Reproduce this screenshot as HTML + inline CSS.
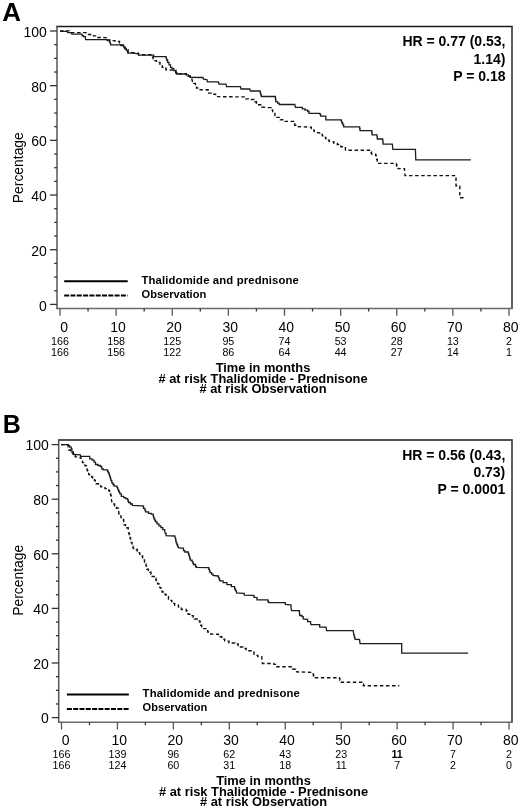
<!DOCTYPE html>
<html><head><meta charset="utf-8"><style>
html,body{margin:0;padding:0;background:#fff;overflow:hidden;width:520px;height:808px;}
svg{display:block;-webkit-font-smoothing:antialiased;}
text{font-family:"Liberation Sans", sans-serif;fill:#000;}
</style></head><body>
<svg style="will-change:transform" width="520" height="808" viewBox="0 0 520 808">
<rect width="520" height="808" fill="#fff"/>
<text x="2.3" y="20.6" font-size="26" font-weight="bold">A</text>
<line x1="56.3" y1="26.5" x2="512.8" y2="26.5" stroke="#1a1a1a" stroke-width="1.4"/>
<line x1="512" y1="26.5" x2="512" y2="308.5" stroke="#444" stroke-width="1.7"/>
<line x1="57" y1="308.5" x2="512.8" y2="308.5" stroke="#6a6a6a" stroke-width="1.4"/>
<line x1="57" y1="26.5" x2="57" y2="309.2" stroke="#555" stroke-width="1.5"/>
<line x1="50" y1="304.40" x2="57" y2="304.40" stroke="#333" stroke-width="1.3"/>
<text x="46.9" y="310.50" font-size="14" text-anchor="end">0</text>
<line x1="54.2" y1="290.73" x2="57" y2="290.73" stroke="#333" stroke-width="1.3"/>
<line x1="54.2" y1="277.06" x2="57" y2="277.06" stroke="#333" stroke-width="1.3"/>
<line x1="54.2" y1="263.39" x2="57" y2="263.39" stroke="#333" stroke-width="1.3"/>
<line x1="50" y1="249.72" x2="57" y2="249.72" stroke="#333" stroke-width="1.3"/>
<text x="46.9" y="255.82" font-size="14" text-anchor="end">20</text>
<line x1="54.2" y1="236.05" x2="57" y2="236.05" stroke="#333" stroke-width="1.3"/>
<line x1="54.2" y1="222.38" x2="57" y2="222.38" stroke="#333" stroke-width="1.3"/>
<line x1="54.2" y1="208.71" x2="57" y2="208.71" stroke="#333" stroke-width="1.3"/>
<line x1="50" y1="195.04" x2="57" y2="195.04" stroke="#333" stroke-width="1.3"/>
<text x="46.9" y="201.14" font-size="14" text-anchor="end">40</text>
<line x1="54.2" y1="181.37" x2="57" y2="181.37" stroke="#333" stroke-width="1.3"/>
<line x1="54.2" y1="167.70" x2="57" y2="167.70" stroke="#333" stroke-width="1.3"/>
<line x1="54.2" y1="154.03" x2="57" y2="154.03" stroke="#333" stroke-width="1.3"/>
<line x1="50" y1="140.36" x2="57" y2="140.36" stroke="#333" stroke-width="1.3"/>
<text x="46.9" y="146.46" font-size="14" text-anchor="end">60</text>
<line x1="54.2" y1="126.69" x2="57" y2="126.69" stroke="#333" stroke-width="1.3"/>
<line x1="54.2" y1="113.02" x2="57" y2="113.02" stroke="#333" stroke-width="1.3"/>
<line x1="54.2" y1="99.35" x2="57" y2="99.35" stroke="#333" stroke-width="1.3"/>
<line x1="50" y1="85.68" x2="57" y2="85.68" stroke="#333" stroke-width="1.3"/>
<text x="46.9" y="91.78" font-size="14" text-anchor="end">80</text>
<line x1="54.2" y1="72.01" x2="57" y2="72.01" stroke="#333" stroke-width="1.3"/>
<line x1="54.2" y1="58.34" x2="57" y2="58.34" stroke="#333" stroke-width="1.3"/>
<line x1="54.2" y1="44.67" x2="57" y2="44.67" stroke="#333" stroke-width="1.3"/>
<line x1="50" y1="31.00" x2="57" y2="31.00" stroke="#333" stroke-width="1.3"/>
<text x="46.9" y="37.10" font-size="14" text-anchor="end">100</text>
<line x1="60.00" y1="308.5" x2="60.00" y2="315.8" stroke="#555" stroke-width="1.3"/>
<text x="64.10" y="332" font-size="14" text-anchor="middle">0</text>
<line x1="88.06" y1="308.5" x2="88.06" y2="311.5" stroke="#333" stroke-width="1.3"/>
<line x1="116.12" y1="308.5" x2="116.12" y2="315.8" stroke="#555" stroke-width="1.3"/>
<text x="117.92" y="332" font-size="14" text-anchor="middle">10</text>
<line x1="144.19" y1="308.5" x2="144.19" y2="311.5" stroke="#333" stroke-width="1.3"/>
<line x1="172.25" y1="308.5" x2="172.25" y2="315.8" stroke="#555" stroke-width="1.3"/>
<text x="174.05" y="332" font-size="14" text-anchor="middle">20</text>
<line x1="200.31" y1="308.5" x2="200.31" y2="311.5" stroke="#333" stroke-width="1.3"/>
<line x1="228.38" y1="308.5" x2="228.38" y2="315.8" stroke="#555" stroke-width="1.3"/>
<text x="230.18" y="332" font-size="14" text-anchor="middle">30</text>
<line x1="256.44" y1="308.5" x2="256.44" y2="311.5" stroke="#333" stroke-width="1.3"/>
<line x1="284.50" y1="308.5" x2="284.50" y2="315.8" stroke="#555" stroke-width="1.3"/>
<text x="286.30" y="332" font-size="14" text-anchor="middle">40</text>
<line x1="312.56" y1="308.5" x2="312.56" y2="311.5" stroke="#333" stroke-width="1.3"/>
<line x1="340.62" y1="308.5" x2="340.62" y2="315.8" stroke="#555" stroke-width="1.3"/>
<text x="342.43" y="332" font-size="14" text-anchor="middle">50</text>
<line x1="368.69" y1="308.5" x2="368.69" y2="311.5" stroke="#333" stroke-width="1.3"/>
<line x1="396.75" y1="308.5" x2="396.75" y2="315.8" stroke="#555" stroke-width="1.3"/>
<text x="398.55" y="332" font-size="14" text-anchor="middle">60</text>
<line x1="424.81" y1="308.5" x2="424.81" y2="311.5" stroke="#333" stroke-width="1.3"/>
<line x1="452.88" y1="308.5" x2="452.88" y2="315.8" stroke="#555" stroke-width="1.3"/>
<text x="454.68" y="332" font-size="14" text-anchor="middle">70</text>
<line x1="480.94" y1="308.5" x2="480.94" y2="311.5" stroke="#333" stroke-width="1.3"/>
<line x1="509.00" y1="308.5" x2="509.00" y2="315.8" stroke="#555" stroke-width="1.3"/>
<text x="510.80" y="332" font-size="14" text-anchor="middle">80</text>
<text x="60.00" y="345" font-size="10.7" text-anchor="middle">166</text>
<text x="60.00" y="355.8" font-size="10.7" text-anchor="middle">166</text>
<text x="116.12" y="345" font-size="10.7" text-anchor="middle">158</text>
<text x="116.12" y="355.8" font-size="10.7" text-anchor="middle">156</text>
<text x="172.25" y="345" font-size="10.7" text-anchor="middle">125</text>
<text x="172.25" y="355.8" font-size="10.7" text-anchor="middle">122</text>
<text x="228.38" y="345" font-size="10.7" text-anchor="middle">95</text>
<text x="228.38" y="355.8" font-size="10.7" text-anchor="middle">86</text>
<text x="284.50" y="345" font-size="10.7" text-anchor="middle">74</text>
<text x="284.50" y="355.8" font-size="10.7" text-anchor="middle">64</text>
<text x="340.62" y="345" font-size="10.7" text-anchor="middle">53</text>
<text x="340.62" y="355.8" font-size="10.7" text-anchor="middle">44</text>
<text x="396.75" y="345" font-size="10.7" text-anchor="middle">28</text>
<text x="396.75" y="355.8" font-size="10.7" text-anchor="middle">27</text>
<text x="452.88" y="345" font-size="10.7" text-anchor="middle">13</text>
<text x="452.88" y="355.8" font-size="10.7" text-anchor="middle">14</text>
<text x="509.00" y="345" font-size="10.7" text-anchor="middle">2</text>
<text x="509.00" y="355.8" font-size="10.7" text-anchor="middle">1</text>
<text transform="translate(23.3,167.70) rotate(-90)" font-size="13.9" text-anchor="middle">Percentage</text>
<text x="263" y="371.6" font-size="12.85" font-weight="bold" text-anchor="middle">Time in months</text>
<text x="263" y="382.6" font-size="12.85" font-weight="bold" text-anchor="middle"># at risk Thalidomide - Prednisone</text>
<text x="263" y="392.8" font-size="12.85" font-weight="bold" text-anchor="middle"># at risk Observation</text>
<text x="505.5" y="46.4" font-size="14" font-weight="bold" text-anchor="end">HR = 0.77 (0.53,</text>
<text x="505.5" y="63.8" font-size="14" font-weight="bold" text-anchor="end">1.14)</text>
<text x="505.5" y="80.8" font-size="14" font-weight="bold" text-anchor="end">P = 0.18</text>
<line x1="64.2" y1="281.2" x2="127.7" y2="281.2" stroke="#000" stroke-width="2"/>
<line x1="64.2" y1="295.5" x2="127.7" y2="295.5" stroke="#000" stroke-width="2" stroke-dasharray="5 1.3"/>
<text x="141.5" y="284" font-size="11.3" letter-spacing="0.14" font-weight="bold">Thalidomide and prednisone</text>
<text x="141.5" y="297.8" font-size="11.1" font-weight="bold">Observation</text>
<polyline points="60.00,31.30 67.10,31.30 67.60,32.50 71.40,32.80 71.90,34.20 81.00,34.20 82.00,34.20 82.00,35.60 83.40,35.60 83.40,36.60 85.40,36.60 85.40,39.00 85.80,39.70 106.30,39.70 107.20,39.70 107.20,40.60 109.60,40.60 109.60,42.00 110.10,42.00 110.10,43.45 110.60,43.45 110.60,44.90 122.10,44.90 123.60,44.90 123.60,46.80 125.00,46.80 125.00,48.80 126.40,48.80 126.40,50.70 127.90,50.70 127.90,53.10 133.70,53.10 136.50,53.60 138.50,53.60 138.50,55.00 152.70,55.20 153.70,55.20 153.70,56.70 165.70,56.70 166.15,56.70 166.15,58.35 166.60,58.35 166.60,60.00 167.60,60.00 167.60,62.40 169.00,62.40 169.00,64.80 170.50,64.80 170.50,67.30 171.90,67.30 171.90,68.70 173.80,68.70 173.80,70.60 175.80,70.60 175.80,73.00 176.70,73.00 176.70,74.00 185.40,74.00 186.30,74.00 186.30,74.90 188.30,74.90 188.30,76.40 190.20,76.40 190.20,77.30 203.00,77.50 203.50,79.20 206.90,79.70 207.50,81.80 218.50,81.80 219.00,84.10 226.00,84.10 226.50,86.70 240.40,86.70 241.00,89.00 249.80,89.00 250.40,91.00 259.60,91.00 260.17,91.00 260.17,92.83 260.73,92.83 260.73,94.67 261.30,94.67 261.30,96.50 275.20,96.50 275.40,96.50 275.40,98.23 275.60,98.23 275.60,99.97 275.80,99.97 275.80,101.70 277.50,101.70 277.50,103.10 279.20,103.10 279.20,104.50 294.80,104.50 295.40,107.40 302.30,107.40 302.30,108.80 305.00,108.80 305.00,110.15 307.70,110.15 307.70,111.50 309.00,111.50 309.00,113.40 319.80,113.40 319.80,114.20 320.60,114.20 320.60,116.10 325.80,116.10 325.80,116.70 325.80,119.90 340.80,119.90 341.35,119.90 341.35,121.45 341.90,121.45 341.90,123.00 342.80,123.00 342.80,124.90 343.70,124.90 343.70,126.80 359.40,126.80 359.70,126.80 359.70,128.75 360.00,128.75 360.00,130.70 371.50,130.70 371.80,130.70 371.80,132.80 372.10,132.80 372.10,134.90 376.70,134.90 377.00,134.90 377.00,136.95 377.30,136.95 377.30,139.00 382.50,139.00 382.70,139.00 382.70,140.73 382.90,140.73 382.90,142.47 383.10,142.47 383.10,144.20 392.30,144.20 392.90,149.30 415.40,149.30 415.80,159.80 470.80,159.80" fill="none" stroke="#1c1c1c" stroke-width="1.3" stroke-linejoin="miter"/>
<polyline points="60.00,30.90 69.50,30.90 70.00,32.60 86.00,32.60 86.50,34.40 92.50,34.60 93.50,34.60 93.50,35.90 95.50,35.90 95.50,37.40 105.00,37.60 106.00,37.60 106.00,38.60 107.00,38.60 107.00,39.90 111.00,39.90 111.00,40.60 115.00,40.60 115.00,41.40 119.50,41.40 119.50,43.10 121.00,43.10 121.00,45.60 123.00,45.60 123.00,47.90 125.50,47.90 125.50,49.80 128.00,49.80 128.00,52.40 133.70,52.70 136.50,53.20 138.50,53.20 138.50,54.60 152.00,54.80 152.50,54.80 152.50,56.70 153.00,56.70 153.00,58.60 154.60,58.60 154.60,60.60 156.50,60.60 156.50,62.50 160.00,62.50 160.00,64.40 161.15,64.40 161.15,65.85 162.30,65.85 162.30,67.30 164.20,67.30 164.20,68.30 166.00,68.30 166.00,69.90 173.80,70.20 175.80,70.20 175.80,72.60 176.70,72.60 176.70,73.60 185.40,73.60 186.30,73.60 186.30,74.50 188.30,74.50 188.30,76.00 190.20,76.00 190.20,76.90 191.90,76.90 191.90,79.30 192.50,81.60 193.70,81.60 193.70,83.40 195.40,83.40 195.40,84.50 195.95,84.50 195.95,86.25 196.50,86.25 196.50,88.00 198.80,88.00 198.80,89.70 208.00,89.70 208.00,90.30 208.35,90.30 208.35,91.70 208.70,91.70 208.70,93.10 212.70,93.10 212.70,94.30 215.60,94.30 215.60,96.60 241.70,96.90 245.80,96.90 245.80,98.90 251.50,98.90 251.50,99.50 255.00,99.50 255.00,101.80 256.45,101.80 256.45,103.25 257.90,103.25 257.90,104.70 261.90,104.70 261.90,107.00 267.70,107.60 271.20,107.60 271.20,109.90 272.60,109.90 272.60,111.65 274.00,111.65 274.00,113.40 274.90,113.40 274.90,115.40 275.80,115.40 275.80,117.40 280.40,117.40 280.40,119.70 282.70,119.70 282.70,121.40 290.80,121.40 293.50,121.40 293.50,123.80 294.65,123.80 294.65,125.20 295.80,125.20 295.80,126.60 310.80,127.20 311.35,127.20 311.35,128.65 311.90,128.65 311.90,130.10 314.20,130.10 314.20,132.40 320.00,133.00 321.15,133.00 321.15,134.45 322.30,134.45 322.30,135.90 324.05,135.90 324.05,137.35 325.80,137.35 325.80,138.80 327.50,138.80 327.50,140.20 329.20,140.20 329.20,141.60 333.80,141.60 333.80,143.40 337.30,143.40 337.30,144.50 340.80,144.50 340.80,146.80 345.40,146.80 345.40,149.10 345.60,150.30 370.40,150.30 370.95,150.30 370.95,152.20 371.50,152.20 371.50,154.10 375.60,154.10 375.60,155.30 376.15,155.30 376.15,157.30 376.70,157.30 376.70,159.30 377.30,159.30 377.30,161.35 377.90,161.35 377.90,163.40 395.80,163.40 396.35,163.40 396.35,164.85 396.90,164.85 396.90,166.30 398.10,166.30 398.10,168.60 404.50,168.60 405.00,175.60 456.00,175.60 456.00,185.70 459.80,185.70 459.80,186.60 459.80,197.80 465.80,197.80" fill="none" stroke="#111" stroke-width="1.4" stroke-dasharray="3.5 2.6"/>
<text x="2.8" y="433.1" font-size="25" font-weight="bold">B</text>
<line x1="58.0" y1="440" x2="512.8" y2="440" stroke="#1a1a1a" stroke-width="1.4"/>
<line x1="512" y1="440" x2="512" y2="722.2" stroke="#444" stroke-width="1.7"/>
<line x1="58.7" y1="722.2" x2="512.8" y2="722.2" stroke="#6a6a6a" stroke-width="1.4"/>
<line x1="58.7" y1="440" x2="58.7" y2="722.9000000000001" stroke="#555" stroke-width="1.5"/>
<line x1="51.7" y1="717.60" x2="58.7" y2="717.60" stroke="#333" stroke-width="1.3"/>
<text x="48.9" y="723.40" font-size="14" text-anchor="end">0</text>
<line x1="55.900000000000006" y1="703.95" x2="58.7" y2="703.95" stroke="#333" stroke-width="1.3"/>
<line x1="55.900000000000006" y1="690.30" x2="58.7" y2="690.30" stroke="#333" stroke-width="1.3"/>
<line x1="55.900000000000006" y1="676.65" x2="58.7" y2="676.65" stroke="#333" stroke-width="1.3"/>
<line x1="51.7" y1="663.00" x2="58.7" y2="663.00" stroke="#333" stroke-width="1.3"/>
<text x="48.9" y="668.80" font-size="14" text-anchor="end">20</text>
<line x1="55.900000000000006" y1="649.35" x2="58.7" y2="649.35" stroke="#333" stroke-width="1.3"/>
<line x1="55.900000000000006" y1="635.70" x2="58.7" y2="635.70" stroke="#333" stroke-width="1.3"/>
<line x1="55.900000000000006" y1="622.05" x2="58.7" y2="622.05" stroke="#333" stroke-width="1.3"/>
<line x1="51.7" y1="608.40" x2="58.7" y2="608.40" stroke="#333" stroke-width="1.3"/>
<text x="48.9" y="614.20" font-size="14" text-anchor="end">40</text>
<line x1="55.900000000000006" y1="594.75" x2="58.7" y2="594.75" stroke="#333" stroke-width="1.3"/>
<line x1="55.900000000000006" y1="581.10" x2="58.7" y2="581.10" stroke="#333" stroke-width="1.3"/>
<line x1="55.900000000000006" y1="567.45" x2="58.7" y2="567.45" stroke="#333" stroke-width="1.3"/>
<line x1="51.7" y1="553.80" x2="58.7" y2="553.80" stroke="#333" stroke-width="1.3"/>
<text x="48.9" y="559.60" font-size="14" text-anchor="end">60</text>
<line x1="55.900000000000006" y1="540.15" x2="58.7" y2="540.15" stroke="#333" stroke-width="1.3"/>
<line x1="55.900000000000006" y1="526.50" x2="58.7" y2="526.50" stroke="#333" stroke-width="1.3"/>
<line x1="55.900000000000006" y1="512.85" x2="58.7" y2="512.85" stroke="#333" stroke-width="1.3"/>
<line x1="51.7" y1="499.20" x2="58.7" y2="499.20" stroke="#333" stroke-width="1.3"/>
<text x="48.9" y="505.00" font-size="14" text-anchor="end">80</text>
<line x1="55.900000000000006" y1="485.55" x2="58.7" y2="485.55" stroke="#333" stroke-width="1.3"/>
<line x1="55.900000000000006" y1="471.90" x2="58.7" y2="471.90" stroke="#333" stroke-width="1.3"/>
<line x1="55.900000000000006" y1="458.25" x2="58.7" y2="458.25" stroke="#333" stroke-width="1.3"/>
<line x1="51.7" y1="444.60" x2="58.7" y2="444.60" stroke="#333" stroke-width="1.3"/>
<text x="48.9" y="450.40" font-size="14" text-anchor="end">100</text>
<line x1="61.50" y1="722.2" x2="61.50" y2="729.5" stroke="#555" stroke-width="1.3"/>
<text x="65.60" y="744.7" font-size="14" text-anchor="middle">0</text>
<line x1="89.47" y1="722.2" x2="89.47" y2="725.2" stroke="#333" stroke-width="1.3"/>
<line x1="117.44" y1="722.2" x2="117.44" y2="729.5" stroke="#555" stroke-width="1.3"/>
<text x="119.24" y="744.7" font-size="14" text-anchor="middle">10</text>
<line x1="145.41" y1="722.2" x2="145.41" y2="725.2" stroke="#333" stroke-width="1.3"/>
<line x1="173.38" y1="722.2" x2="173.38" y2="729.5" stroke="#555" stroke-width="1.3"/>
<text x="175.18" y="744.7" font-size="14" text-anchor="middle">20</text>
<line x1="201.34" y1="722.2" x2="201.34" y2="725.2" stroke="#333" stroke-width="1.3"/>
<line x1="229.31" y1="722.2" x2="229.31" y2="729.5" stroke="#555" stroke-width="1.3"/>
<text x="231.11" y="744.7" font-size="14" text-anchor="middle">30</text>
<line x1="257.28" y1="722.2" x2="257.28" y2="725.2" stroke="#333" stroke-width="1.3"/>
<line x1="285.25" y1="722.2" x2="285.25" y2="729.5" stroke="#555" stroke-width="1.3"/>
<text x="287.05" y="744.7" font-size="14" text-anchor="middle">40</text>
<line x1="313.22" y1="722.2" x2="313.22" y2="725.2" stroke="#333" stroke-width="1.3"/>
<line x1="341.19" y1="722.2" x2="341.19" y2="729.5" stroke="#555" stroke-width="1.3"/>
<text x="342.99" y="744.7" font-size="14" text-anchor="middle">50</text>
<line x1="369.16" y1="722.2" x2="369.16" y2="725.2" stroke="#333" stroke-width="1.3"/>
<line x1="397.12" y1="722.2" x2="397.12" y2="729.5" stroke="#555" stroke-width="1.3"/>
<text x="398.93" y="744.7" font-size="14" text-anchor="middle">60</text>
<line x1="425.09" y1="722.2" x2="425.09" y2="725.2" stroke="#333" stroke-width="1.3"/>
<line x1="453.06" y1="722.2" x2="453.06" y2="729.5" stroke="#555" stroke-width="1.3"/>
<text x="454.86" y="744.7" font-size="14" text-anchor="middle">70</text>
<line x1="481.03" y1="722.2" x2="481.03" y2="725.2" stroke="#333" stroke-width="1.3"/>
<line x1="509.00" y1="722.2" x2="509.00" y2="729.5" stroke="#555" stroke-width="1.3"/>
<text x="510.80" y="744.7" font-size="14" text-anchor="middle">80</text>
<text x="61.50" y="758.3" font-size="10.7" text-anchor="middle">166</text>
<text x="61.50" y="769" font-size="10.7" text-anchor="middle">166</text>
<text x="117.44" y="758.3" font-size="10.7" text-anchor="middle">139</text>
<text x="117.44" y="769" font-size="10.7" text-anchor="middle">124</text>
<text x="173.38" y="758.3" font-size="10.7" text-anchor="middle">96</text>
<text x="173.38" y="769" font-size="10.7" text-anchor="middle">60</text>
<text x="229.31" y="758.3" font-size="10.7" text-anchor="middle">62</text>
<text x="229.31" y="769" font-size="10.7" text-anchor="middle">31</text>
<text x="285.25" y="758.3" font-size="10.7" text-anchor="middle">43</text>
<text x="285.25" y="769" font-size="10.7" text-anchor="middle">18</text>
<text x="341.19" y="758.3" font-size="10.7" text-anchor="middle">23</text>
<text x="341.19" y="769" font-size="10.7" text-anchor="middle">11</text>
<text x="397.12" y="758.3" font-size="10.7" text-anchor="middle" font-weight="bold">11</text>
<text x="397.12" y="769" font-size="10.7" text-anchor="middle">7</text>
<text x="453.06" y="758.3" font-size="10.7" text-anchor="middle">7</text>
<text x="453.06" y="769" font-size="10.7" text-anchor="middle">2</text>
<text x="509.00" y="758.3" font-size="10.7" text-anchor="middle">2</text>
<text x="509.00" y="769" font-size="10.7" text-anchor="middle">0</text>
<text transform="translate(22.8,580.30) rotate(-90)" font-size="13.9" text-anchor="middle">Percentage</text>
<text x="263.5" y="785" font-size="12.85" font-weight="bold" text-anchor="middle">Time in months</text>
<text x="263.5" y="795.6" font-size="12.85" font-weight="bold" text-anchor="middle"># at risk Thalidomide - Prednisone</text>
<text x="263.5" y="805.8" font-size="12.85" font-weight="bold" text-anchor="middle"># at risk Observation</text>
<text x="505.3" y="459.7" font-size="14" font-weight="bold" text-anchor="end">HR = 0.56 (0.43,</text>
<text x="505.3" y="477.2" font-size="14" font-weight="bold" text-anchor="end">0.73)</text>
<text x="505.3" y="494.1" font-size="14" font-weight="bold" text-anchor="end">P = 0.0001</text>
<line x1="66.9" y1="694.5" x2="128.8" y2="694.5" stroke="#000" stroke-width="2"/>
<line x1="66.9" y1="709.1" x2="128.8" y2="709.1" stroke="#000" stroke-width="2" stroke-dasharray="5 1.3"/>
<text x="142.6" y="697.3" font-size="11.3" letter-spacing="0.14" font-weight="bold">Thalidomide and prednisone</text>
<text x="142.6" y="710.7" font-size="11.1" font-weight="bold">Observation</text>
<polyline points="61.10,444.60 67.30,444.60 68.30,444.60 68.30,445.70 69.70,445.70 69.70,447.10 71.20,447.10 71.20,448.60 71.90,448.60 71.90,450.50 72.10,452.90 73.10,452.90 73.10,454.40 80.30,454.80 80.80,456.30 88.70,456.40 89.70,456.40 89.70,458.80 92.10,458.80 92.10,460.20 94.00,460.20 94.00,462.10 95.50,462.10 95.50,464.50 97.90,464.50 97.90,465.50 100.30,465.50 100.30,466.50 101.70,466.50 101.70,468.90 103.20,468.90 103.20,469.80 106.10,469.80 107.50,469.80 107.50,471.30 108.25,471.30 108.25,472.75 109.00,472.75 109.00,474.20 109.45,474.20 109.45,475.60 109.90,475.60 109.90,477.00 110.40,477.00 110.40,478.70 110.90,478.70 110.90,480.40 111.80,480.40 111.80,482.80 112.95,482.80 112.95,484.50 114.10,484.50 114.10,486.20 117.00,486.20 117.00,487.60 117.75,487.60 117.75,489.30 118.50,489.30 118.50,491.00 119.20,491.00 119.20,492.45 119.90,492.45 119.90,493.90 121.30,493.90 121.30,496.30 123.70,496.30 123.70,497.70 125.70,497.70 125.70,498.70 127.60,498.70 127.60,499.60 128.05,499.60 128.05,501.05 128.50,501.05 128.50,502.50 130.50,502.50 130.50,504.00 132.40,504.00 132.40,505.40 142.00,505.90 143.50,505.90 143.50,508.30 144.90,508.30 144.90,510.20 145.50,510.20 145.50,511.80 148.40,511.80 148.40,513.30 151.20,513.30 151.20,514.20 153.20,514.20 153.20,516.20 153.65,516.20 153.65,517.65 154.10,517.65 154.10,519.10 154.85,519.10 154.85,520.50 155.60,520.50 155.60,521.90 157.00,521.90 157.00,523.90 158.90,523.90 158.90,525.80 160.90,525.80 160.90,527.70 162.80,527.70 162.80,529.60 164.70,529.60 164.70,531.10 165.20,533.30 166.10,533.30 166.10,535.70 174.80,536.00 175.30,538.10 175.60,538.10 175.60,539.70 175.90,539.70 175.90,541.30 176.20,541.30 176.20,542.90 176.87,542.90 176.87,544.50 177.53,544.50 177.53,546.10 178.20,546.10 178.20,547.70 181.50,548.20 183.50,548.20 183.50,550.60 184.90,550.60 184.90,552.00 188.30,552.00 188.30,553.50 188.75,553.50 188.75,554.95 189.20,554.95 189.20,556.40 189.70,556.40 189.70,558.30 190.20,558.30 190.20,560.20 192.10,560.20 192.10,561.70 192.80,561.70 192.80,563.10 193.50,563.10 193.50,564.50 195.50,564.50 195.50,566.50 196.40,566.50 196.40,567.40 208.20,567.60 208.83,567.60 208.83,569.27 209.47,569.27 209.47,570.93 210.10,570.93 210.10,572.60 211.55,572.60 211.55,574.05 213.00,574.05 213.00,575.50 217.80,576.00 218.43,576.00 218.43,577.60 219.07,577.60 219.07,579.20 219.70,579.20 219.70,580.80 223.10,580.80 223.10,582.70 226.90,582.70 226.90,584.60 231.30,584.60 231.30,586.60 234.60,586.60 234.60,589.00 235.55,589.00 235.55,590.90 236.50,590.90 236.50,592.80 243.30,593.30 244.20,593.30 244.20,595.20 252.40,595.40 253.90,595.40 253.90,597.10 256.40,597.60 257.00,597.60 257.00,599.90 267.40,599.90 267.95,599.90 267.95,601.25 268.50,601.25 268.50,602.60 284.70,602.60 285.30,602.60 285.30,604.50 289.90,604.90 291.00,604.90 291.00,607.40 291.60,610.60 299.10,610.60 299.30,610.60 299.30,612.23 299.50,612.23 299.50,613.87 299.70,613.87 299.70,615.50 302.00,615.50 302.00,616.60 303.20,616.60 303.20,618.90 306.40,619.40 307.60,619.40 307.60,621.70 310.50,621.70 310.50,622.30 311.00,624.60 319.10,624.60 319.70,624.60 319.70,627.20 326.00,627.20 326.60,630.60 353.20,630.60 353.70,634.40 354.10,634.40 354.10,635.97 354.50,635.97 354.50,637.53 354.90,637.53 354.90,639.10 359.50,639.60 360.10,643.70 401.70,643.70 401.70,653.20 468.10,653.20" fill="none" stroke="#1c1c1c" stroke-width="1.3" stroke-linejoin="miter"/>
<polyline points="61.10,444.60 67.30,444.60 68.00,444.60 68.00,446.40 68.50,450.00 70.70,450.00 70.70,450.90 72.60,450.90 72.60,451.90 73.30,451.90 73.30,453.85 74.00,453.85 74.00,455.80 75.20,455.80 75.20,456.90 80.10,456.90 80.10,457.90 81.10,457.90 81.10,459.70 81.50,461.20 82.50,461.20 82.50,462.65 83.50,462.65 83.50,464.10 84.95,464.10 84.95,465.75 86.40,465.75 86.40,467.40 86.85,467.40 86.85,469.10 87.30,469.10 87.30,470.80 88.00,470.80 88.00,472.70 88.70,472.70 88.70,474.60 90.70,474.60 90.70,475.60 91.65,475.60 91.65,477.05 92.60,477.05 92.60,478.50 94.50,478.50 94.50,480.40 95.25,480.40 95.25,482.10 96.00,482.10 96.00,483.80 98.40,483.80 98.40,485.70 100.70,485.70 100.70,486.90 105.00,486.90 105.00,488.60 108.80,488.60 108.80,490.50 109.55,490.50 109.55,492.20 110.30,492.20 110.30,493.90 110.75,493.90 110.75,495.80 111.20,495.80 111.20,497.70 111.70,501.10 112.20,504.00 114.60,504.00 114.60,505.90 116.50,505.90 116.50,508.30 118.50,508.30 118.50,510.20 119.00,514.20 120.00,514.20 120.00,515.90 121.00,515.90 121.00,517.60 123.40,517.60 123.40,520.00 123.70,520.00 123.70,521.60 124.00,521.60 124.00,523.20 124.30,523.20 124.30,524.80 125.50,524.80 125.50,526.25 126.70,526.25 126.70,527.70 128.20,527.70 128.20,529.20 128.70,533.00 129.15,533.00 129.15,534.45 129.60,534.45 129.60,535.90 130.10,535.90 130.10,538.05 130.60,538.05 130.60,540.20 131.30,540.20 131.30,542.45 132.00,542.45 132.00,544.70 132.50,544.70 132.50,546.30 133.00,546.30 133.00,547.90 133.50,547.90 133.50,549.50 137.30,549.50 137.30,551.00 138.50,551.00 138.50,552.70 139.70,552.70 139.70,554.40 141.15,554.40 141.15,556.05 142.60,556.05 142.60,557.70 143.55,557.70 143.55,559.85 144.50,559.85 144.50,562.00 145.25,562.00 145.25,563.95 146.00,563.95 146.00,565.90 146.45,565.90 146.45,567.55 146.90,567.55 146.90,569.20 148.35,569.20 148.35,570.65 149.80,570.65 149.80,572.10 151.00,572.10 151.00,574.30 152.20,574.30 152.20,576.50 155.50,576.50 155.50,578.30 155.95,578.30 155.95,580.20 156.40,580.20 156.40,582.10 157.60,582.10 157.60,583.80 158.80,583.80 158.80,585.50 159.80,585.50 159.80,587.65 160.80,587.65 160.80,589.80 162.00,589.80 162.00,592.00 163.20,592.00 163.20,594.20 166.00,594.20 166.00,596.60 168.50,596.60 168.50,599.00 170.15,599.00 170.15,600.40 171.80,600.40 171.80,601.80 173.25,601.80 173.25,603.50 174.70,603.50 174.70,605.20 178.50,605.20 178.50,607.10 181.40,607.10 181.40,609.50 186.20,609.50 186.20,611.00 187.20,611.00 187.20,612.60 188.20,612.60 188.20,614.20 192.00,614.20 192.00,615.60 193.20,615.60 193.20,617.30 194.40,617.30 194.40,619.00 199.20,619.00 199.20,620.90 199.95,620.90 199.95,623.05 200.70,623.05 200.70,625.20 201.65,625.20 201.65,626.90 202.60,626.90 202.60,628.60 206.90,628.60 206.90,630.00 207.65,630.00 207.65,631.95 208.40,631.95 208.40,633.90 215.60,634.20 218.50,634.20 218.50,636.80 221.80,636.80 221.80,639.20 224.70,639.20 224.70,641.10 229.00,641.10 229.00,643.00 234.80,643.00 234.80,644.00 238.20,644.00 238.20,645.60 240.50,645.60 240.50,647.05 242.80,647.05 242.80,648.50 246.20,648.50 246.20,650.80 253.70,650.80 254.30,655.40 257.80,655.40 257.80,656.60 261.80,656.60 261.80,658.90 262.40,663.50 273.90,663.50 273.90,664.40 275.70,664.40 275.70,666.70 291.20,666.70 292.40,666.70 292.40,668.90 294.30,669.20 295.45,669.20 295.45,670.55 296.60,670.55 296.60,671.90 312.70,672.40 313.10,672.40 313.10,674.17 313.50,674.17 313.50,675.93 313.90,675.93 313.90,677.70 339.30,677.70 339.30,678.40 339.90,678.40 339.90,680.35 340.50,680.35 340.50,682.30 362.40,682.30 362.95,682.30 362.95,684.05 363.50,684.05 363.50,685.80 399.30,685.80" fill="none" stroke="#111" stroke-width="1.4" stroke-dasharray="3.5 2.6"/>
</svg>
</body></html>
